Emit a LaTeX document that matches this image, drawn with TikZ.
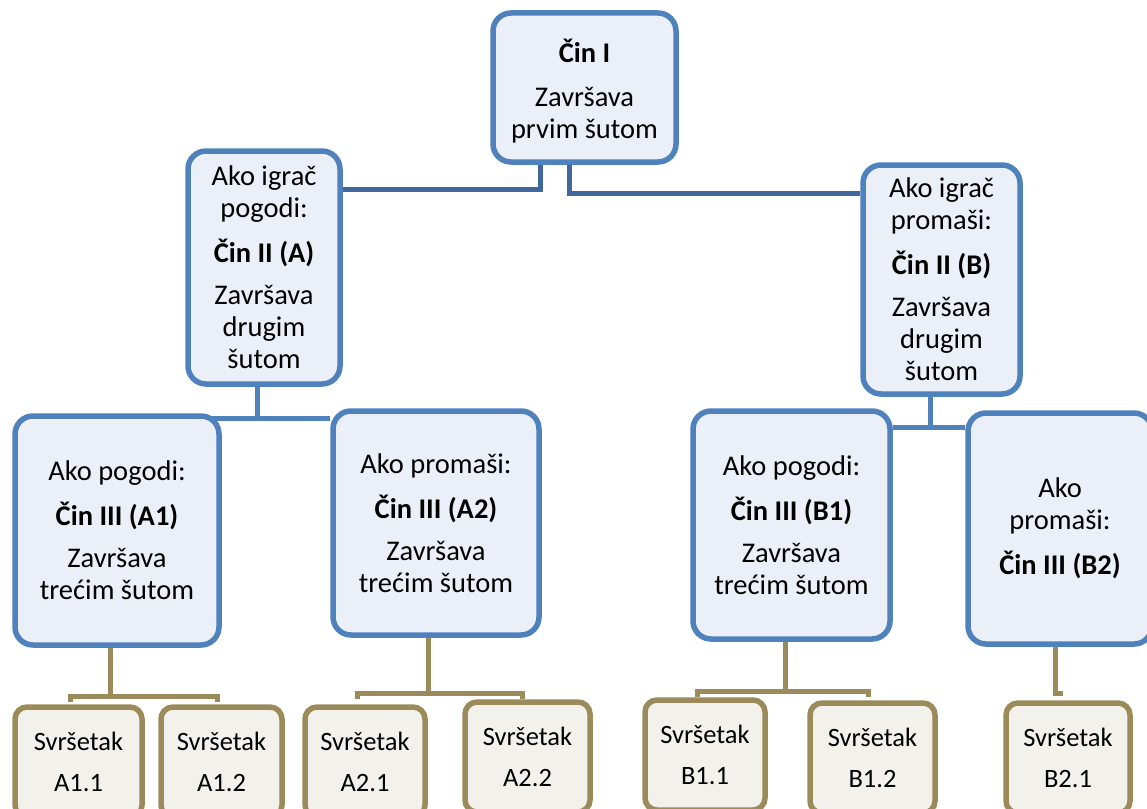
\documentclass[tikz,border=0pt]{standalone}
\usepackage{fontspec}
\setmainfont{Carlito}
\usetikzlibrary{backgrounds}
\definecolor{boxblue}{HTML}{4F81BD}
\definecolor{darkblue}{HTML}{41689A}
\definecolor{boxfill}{HTML}{EBF0F8}
\definecolor{tanline}{HTML}{9B8A5A}
\definecolor{endfill}{HTML}{F2F1EC}
\begin{document}
\begin{tikzpicture}[x=1pt,y=-1pt,
  box/.style={draw=boxblue, line width=5.5pt, fill=boxfill, rounded corners=18pt,
    align=center, inner sep=0pt, font=\fontsize{28.5}{32}\selectfont},
  endbox/.style={draw=tanline, line width=5.5pt, fill=endfill, rounded corners=12pt,
    align=center, inner sep=0pt, font=\fontsize{26.5}{29}\selectfont},
  darkconn/.style={draw=darkblue, line width=5pt},
  conn/.style={draw=boxblue, line width=5pt},
  tconn/.style={draw=tanline, line width=5pt}]
\useasboundingbox (0,0) rectangle (1147,808);
\clip (0,0) rectangle (1147,808);

% level 1
\node[box, minimum width=183pt, minimum height=149pt] (top) at (584.5,87.5)
  {\rule{0pt}{31pt}\textbf{Čin I}\\[12pt]Završava\\prvim šutom};
% level 2
\node[box, minimum width=152pt, minimum height=233pt] (A) at (264,267.5)
  {Ako igrač\\pogodi:\\[13pt]\textbf{Čin II (A)}\\[10pt]Završava\\drugim\\šutom};
\node[box, minimum width=157pt, minimum height=229pt] (B) at (941.5,279.5)
  {Ako igrač\\promaši:\\[13pt]\textbf{Čin II (B)}\\[10pt]Završava\\drugim\\šutom};
% level 3
\node[box, minimum width=204pt, minimum height=229pt] (A1) at (117,530.5)
  {Ako pogodi:\\[13pt]\textbf{Čin III (A1)}\\[10pt]Završava\\trećim šutom};
\node[box, minimum width=206pt, minimum height=224pt] (A2) at (436,523)
  {Ako promaši:\\[13pt]\textbf{Čin III (A2)}\\[10pt]Završava\\trećim šutom};
\node[box, minimum width=197pt, minimum height=228pt] (B1) at (791.5,525)
  {Ako pogodi:\\[13pt]\textbf{Čin III (B1)}\\[10pt]Završava\\trećim šutom};
\node[box, minimum width=184pt, minimum height=231pt] (B2) at (1060,528.5)
  {Ako\\promaši:\\[13pt]\textbf{Čin III (B2)}};
% endings
\node[endbox, minimum width=127pt, minimum height=110pt] (A11) at (78.5,762) {Svršetak\\[12pt]A1.1};
\node[endbox, minimum width=121pt, minimum height=110pt] (A12) at (221.5,762) {Svršetak\\[12pt]A1.2};
\node[endbox, minimum width=120pt, minimum height=110pt] (A21) at (365,762) {Svršetak\\[12pt]A2.1};
\node[endbox, minimum width=125pt, minimum height=110pt] (A22) at (527.5,757) {Svršetak\\[12pt]A2.2};
\node[endbox, minimum width=120pt, minimum height=110pt] (B11) at (705,755) {Svršetak\\[12pt]B1.1};
\node[endbox, minimum width=125pt, minimum height=110pt] (B12) at (872.5,758) {Svršetak\\[12pt]B1.2};
\node[endbox, minimum width=124pt, minimum height=110pt] (B21) at (1068,758) {Svršetak\\[12pt]B2.1};

% junction coordinates
\coordinate (tA) at (540,189);
\coordinate (tB) at (569,193);
\coordinate (jA) at (257,418);
\coordinate (jB) at (930,427);
\coordinate (jA1) at (110,696);
\coordinate (jA1l) at (70,702);
\coordinate (jA1r) at (217,702);
\coordinate (jA2) at (428,693);
\coordinate (jA2l) at (357,699);
\coordinate (jA2r) at (522,699);
\coordinate (jB1) at (785,691);
\coordinate (jB1l) at (697,697);
\coordinate (jB1r) at (868,697);
\coordinate (jB2) at (1055,693);
\coordinate (jB2r) at (1063,693);

\begin{scope}[on background layer]
  \draw[darkconn] (top.south -| tA) |- (A.east |- tA);
  \draw[darkconn] (top.south -| tB) |- (B.west |- tB);
  \draw[conn] (A.south -| jA) -- (jA);
  \draw[conn] ([xshift=-15pt]A1.east |- jA) -- (A2.west |- jA);
  \draw[conn] (B.south -| jB) -- (jB);
  \draw[conn] (B1.east |- jB) -- (B2.west |- jB);
  \draw[tconn] (A1.south -| jA1) -- (jA1);
  \draw[tconn] (jA1l) |- (jA1) -| (jA1r);
  \draw[tconn] (A2.south -| jA2) -- (jA2);
  \draw[tconn] (jA2l) |- (jA2) -| (jA2r);
  \draw[tconn] (B1.south -| jB1) -- (jB1);
  \draw[tconn] (jB1l) |- (jB1) -| (jB1r);
  \draw[tconn] (B2.south -| jB2) -- (jB2) -- (jB2r);
\end{scope}
\end{tikzpicture}
\end{document}
